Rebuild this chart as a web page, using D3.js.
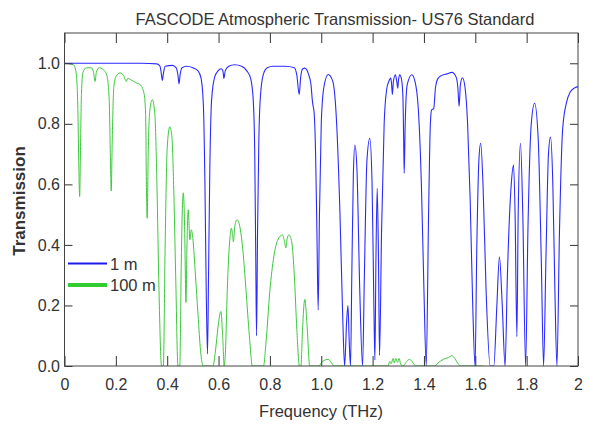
<!DOCTYPE html>
<html>
<head>
<meta charset="utf-8">
<script src="https://cdn.jsdelivr.net/npm/d3@7"></script>
<style>
  body { margin: 0; background: #fff; }
  text { font-family: "Liberation Sans", Arial, sans-serif; fill: #333; }
</style>
</head>
<body>
<div id="chart"></div>
<script>
// values: [frequency THz, transmission]
var path1m = [
  [0, 1.0], [0.30, 1.0], [0.36, 0.998], [0.372, 0.99], [0.378, 0.96], [0.381, 0.943],
  [0.385, 0.965], [0.392, 0.99], [0.42, 0.993], [0.435, 0.985], [0.442, 0.96], [0.446, 0.932],
  [0.45, 0.96], [0.458, 0.985], [0.475, 0.99], [0.50, 0.985], [0.52, 0.975], [0.532, 0.95],
  [0.541, 0.86], [0.547, 0.6], [0.552, 0.25], [0.557, 0.04], [0.561, 0.3], [0.566, 0.65],
  [0.573, 0.88], [0.585, 0.955], [0.598, 0.975], [0.61, 0.982], [0.617, 0.975], [0.621, 0.95],
  [0.626, 0.975], [0.64, 0.99], [0.663, 0.995], [0.69, 0.99], [0.71, 0.975], [0.725, 0.95],
  [0.735, 0.88], [0.741, 0.7], [0.745, 0.35], [0.748, 0.10], [0.752, 0.45], [0.757, 0.75],
  [0.763, 0.89], [0.775, 0.965], [0.79, 0.985], [0.812, 0.99], [0.86, 0.99], [0.895, 0.985],
  [0.905, 0.96], [0.914, 0.897], [0.92, 0.955], [0.928, 0.982], [0.936, 0.984], [0.95, 0.965],
  [0.96, 0.93], [0.965, 0.88], [0.968, 0.86], [0.972, 0.84], [0.978, 0.7], [0.983, 0.45],
  [0.988, 0.185], [0.993, 0.5], [1.0, 0.8], [1.01, 0.92], [1.027, 0.963], [1.045, 0.94],
  [1.06, 0.8], [1.073, 0.5], [1.084, 0.15], [1.091, 0.0], [1.099, 0.15], [1.104, 0.2],
  [1.109, 0.08], [1.114, 0.0], [1.119, 0.3], [1.125, 0.63], [1.131, 0.73], [1.139, 0.65],
  [1.15, 0.25], [1.161, 0.0], [1.168, 0.3], [1.178, 0.68], [1.189, 0.752], [1.198, 0.6],
  [1.205, 0.2], [1.209, 0.02], [1.213, 0.35], [1.218, 0.587], [1.223, 0.35], [1.227, 0.035],
  [1.235, 0.45], [1.245, 0.8], [1.255, 0.915], [1.263, 0.94], [1.271, 0.951], [1.274, 0.93],
  [1.277, 0.897], [1.281, 0.94], [1.289, 0.962], [1.294, 0.94], [1.298, 0.918], [1.301, 0.945],
  [1.305, 0.962], [1.312, 0.95], [1.318, 0.89], [1.321, 0.75], [1.323, 0.637], [1.327, 0.8],
  [1.335, 0.93], [1.353, 0.962], [1.365, 0.94], [1.378, 0.85], [1.39, 0.6], [1.4, 0.25],
  [1.409, 0.0], [1.418, 0.5], [1.425, 0.8], [1.43, 0.846], [1.438, 0.85], [1.445, 0.92],
  [1.455, 0.95], [1.47, 0.96], [1.49, 0.965], [1.509, 0.97], [1.525, 0.955], [1.532, 0.92],
  [1.537, 0.857], [1.542, 0.93], [1.55, 0.952], [1.56, 0.92], [1.57, 0.8], [1.58, 0.55],
  [1.59, 0.2], [1.599, 0.0], [1.606, 0.4], [1.614, 0.68], [1.621, 0.736], [1.63, 0.6],
  [1.642, 0.25], [1.658, 0.0], [1.672, 0.0], [1.684, 0.2], [1.694, 0.361], [1.705, 0.2],
  [1.716, 0.0], [1.725, 0.3], [1.74, 0.6], [1.749, 0.664], [1.755, 0.5], [1.762, 0.097],
  [1.767, 0.5], [1.776, 0.736], [1.785, 0.5], [1.796, 0.0], [1.805, 0.45], [1.818, 0.8],
  [1.831, 0.868], [1.845, 0.75], [1.857, 0.35], [1.866, 0.0], [1.875, 0.35], [1.885, 0.7],
  [1.893, 0.756], [1.902, 0.6], [1.91, 0.25], [1.918, 0.0], [1.928, 0.45], [1.94, 0.78],
  [1.955, 0.87], [1.97, 0.905], [1.985, 0.918], [2.0, 0.923]
];

var path100m = [
  [0, 1.0], [0.035, 0.995], [0.045, 0.97], [0.052, 0.85], [0.056, 0.65], [0.059, 0.56],
  [0.062, 0.7], [0.066, 0.9], [0.072, 0.97], [0.085, 0.985], [0.105, 0.985], [0.113, 0.97],
  [0.119, 0.94], [0.124, 0.97], [0.135, 0.985], [0.15, 0.98], [0.165, 0.96], [0.174, 0.88],
  [0.179, 0.68], [0.182, 0.578], [0.186, 0.75], [0.192, 0.92], [0.2, 0.955], [0.216, 0.968],
  [0.23, 0.96], [0.237, 0.945], [0.241, 0.94], [0.246, 0.95], [0.26, 0.945], [0.28, 0.935],
  [0.294, 0.93], [0.31, 0.9], [0.316, 0.83], [0.319, 0.6], [0.322, 0.488], [0.326, 0.7],
  [0.332, 0.84], [0.342, 0.88], [0.352, 0.83], [0.36, 0.6], [0.368, 0.25], [0.378, 0.0],
  [0.385, 0.0], [0.392, 0.4], [0.4, 0.72], [0.41, 0.79], [0.418, 0.76], [0.425, 0.6],
  [0.433, 0.3], [0.442, 0.0], [0.449, 0.0], [0.455, 0.35], [0.459, 0.52], [0.463, 0.572],
  [0.468, 0.45], [0.473, 0.21], [0.477, 0.4], [0.482, 0.516], [0.485, 0.47], [0.488, 0.417],
  [0.494, 0.45], [0.5, 0.42], [0.51, 0.3], [0.52, 0.17], [0.53, 0.05], [0.54, 0.0],
  [0.578, 0.0], [0.588, 0.05], [0.598, 0.13], [0.609, 0.18], [0.616, 0.1], [0.622, 0.0],
  [0.627, 0.05], [0.634, 0.25], [0.644, 0.42], [0.65, 0.455], [0.655, 0.43], [0.658, 0.41],
  [0.663, 0.46], [0.672, 0.483], [0.683, 0.46], [0.695, 0.38], [0.707, 0.25], [0.72, 0.1],
  [0.732, 0.0], [0.775, 0.0], [0.785, 0.08], [0.8, 0.25], [0.815, 0.36], [0.83, 0.415],
  [0.849, 0.433], [0.857, 0.41], [0.862, 0.39], [0.867, 0.42], [0.874, 0.433], [0.885, 0.41],
  [0.895, 0.3], [0.905, 0.12], [0.915, 0.0], [0.921, 0.0], [0.927, 0.12], [0.936, 0.22],
  [0.945, 0.13], [0.955, 0.0], [0.99, 0.0], [1.005, 0.015], [1.027, 0.022], [1.04, 0.01],
  [1.05, 0.0], [1.26, 0.0], [1.267, 0.015], [1.272, 0.008], [1.28, 0.025], [1.285, 0.01],
  [1.29, 0.025], [1.297, 0.012], [1.303, 0.025], [1.31, 0.005], [1.32, 0.0], [1.33, 0.012],
  [1.344, 0.022], [1.358, 0.01], [1.368, 0.0], [1.44, 0.0], [1.455, 0.01], [1.475, 0.022],
  [1.495, 0.028], [1.509, 0.034], [1.52, 0.025], [1.535, 0.005], [1.545, 0.0], [1.63, 0.0]
];

var seriesNames = ["1 m", "100 m"];
var xTicks = [0, 0.2, 0.4, 0.6, 0.8, 1.0, 1.2, 1.4, 1.6, 1.8, 2];
var xTickLabels = ["0", "0.2", "0.4", "0.6", "0.8", "1.0", "1.2", "1.4", "1.6", "1.8", "2"];
var yTicks = [0, 0.2, 0.4, 0.6, 0.8, 1.0];

var colors = ["#2a2aff", "#3cc83c"];

var W = 590, H = 426;
var margin = {top: 33, right: 12, bottom: 60, left: 64.5},
    width = W - margin.left - margin.right,
    height = H - margin.top - margin.bottom;

var root = d3.select("#chart")
  .append("svg")
    .attr("width", W)
    .attr("height", H);

var svg = root.append("g")
    .attr("transform", "translate(" + margin.left + "," + margin.top + ")");

var x = d3.scaleLinear().domain([0, 2]).range([0, width]);
var y = d3.scaleLinear().domain([0, 1.1]).range([height, 0]);

// clip so curves stay inside the frame
svg.append("clipPath").attr("id", "plotclip")
  .append("rect").attr("width", width).attr("height", height);

var line = d3.line()
  .x(function(d) { return x(d[0]); })
  .y(function(d) { return y(d[1]); })
  .curve(d3.curveMonotoneX);

var plot = svg.append("g").attr("clip-path", "url(#plotclip)");

plot.append("path")
  .datum(path100m)
  .attr("fill", "none")
  .attr("stroke", colors[1])
  .attr("stroke-width", 1)
  .attr("d", line);

plot.append("path")
  .datum(path1m)
  .attr("fill", "none")
  .attr("stroke", colors[0])
  .attr("stroke-width", 1.1)
  .attr("d", line);

// axes, ticks point inward
var xAxis = svg.append("g")
  .attr("transform", "translate(0," + height + ")")
  .call(d3.axisBottom(x).tickValues(xTicks).tickSize(-10).tickPadding(13)
    .tickFormat(function(d, i) { return xTickLabels[i]; }));
var yAxis = svg.append("g")
  .call(d3.axisLeft(y).tickValues(yTicks).tickSize(-8).tickPadding(4.5)
    .tickFormat(d3.format(".1f")));
var topAxis = svg.append("g")
  .call(d3.axisTop(x).tickValues(xTicks).tickSize(-10).tickFormat(""));
var rightAxis = svg.append("g")
  .attr("transform", "translate(" + width + ",0)")
  .call(d3.axisRight(y).tickValues(yTicks).tickSize(-8).tickFormat(""));

[xAxis, yAxis, topAxis, rightAxis].forEach(function(a) {
  a.select(".domain").remove();
  a.selectAll(".tick line").attr("stroke", "#333");
  a.selectAll("text").style("font-size", "16px").attr("fill", "#333");
});

// frame
svg.append("rect")
  .attr("width", width)
  .attr("height", height)
  .attr("fill", "none")
  .attr("stroke", "#444")
  .attr("stroke-width", 1);

// title and axis labels
root.append("text")
  .attr("x", 335)
  .attr("y", 25)
  .attr("text-anchor", "middle")
  .style("font-size", "16.5px")
  .text("FASCODE Atmospheric Transmission- US76 Standard");

root.append("text")
  .attr("x", 321)
  .attr("y", 417)
  .attr("text-anchor", "middle")
  .style("font-size", "16.5px")
  .text("Frequency (THz)");

root.append("text")
  .attr("transform", "translate(25,201) rotate(-90)")
  .attr("text-anchor", "middle")
  .style("font-size", "17px")
  .style("font-weight", "bold")
  .text("Transmission");

// legend
var legend = root.append("g");
legend.selectAll("line")
  .data(seriesNames)
  .enter()
  .append("line")
    .attr("x1", 68)
    .attr("x2", 107)
    .attr("y1", function(d, i) { return 263.5 + i * 21.5; })
    .attr("y2", function(d, i) { return 263.5 + i * 21.5; })
    .attr("stroke", function(d, i) { return i == 0 ? "#1c1cf0" : "#33cc33"; })
    .attr("stroke-width", function(d, i) { return i == 0 ? 2.2 : 4; });
legend.selectAll("text")
  .data(seriesNames)
  .enter()
  .append("text")
    .attr("x", 110)
    .attr("y", function(d, i) { return 269.5 + i * 21.5; })
    .style("font-size", "16.5px")
    .text(function(d) { return d; });
</script>
</body>
</html>
